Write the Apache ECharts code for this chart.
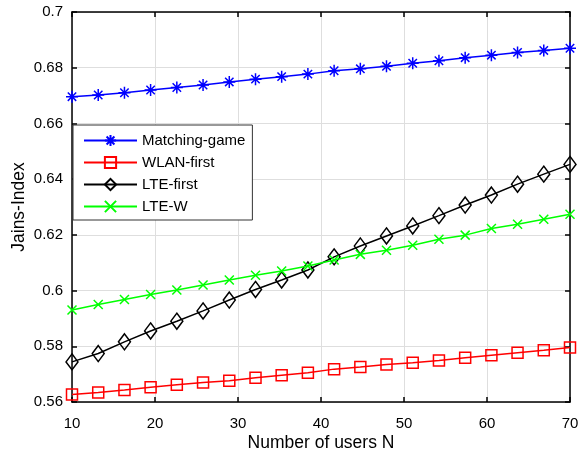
<!DOCTYPE html>
<html>
<head>
<meta charset="utf-8">
<script src="https://cdn.jsdelivr.net/npm/echarts@6/dist/echarts.min.js"></script>
<style>
  html, body { margin: 0; padding: 0; background: #fff; }
  #chart { width: 579px; height: 460px; }
</style>
</head>
<body>
<div id="chart"></div>
<script>
// Number of users N (20 evenly spaced samples from 10 to 70)
const users = [10, 13.16, 16.32, 19.47, 22.63, 25.79, 28.95, 32.11, 35.26, 38.42,
               41.58, 44.74, 47.89, 51.05, 54.21, 57.37, 60.53, 63.68, 66.84, 70];

const matchingGame = [0.6696, 0.6702, 0.6710, 0.6720, 0.6729, 0.6738, 0.6749, 0.6759, 0.6768, 0.6777,
                      0.6789, 0.6796, 0.6805, 0.6816, 0.6825, 0.6836, 0.6845, 0.6855, 0.6862, 0.6870];
const wlanFirst    = [0.5627, 0.5634, 0.5643, 0.5653, 0.5662, 0.5670, 0.5676, 0.5687, 0.5696, 0.5705,
                      0.5718, 0.5726, 0.5735, 0.5741, 0.5749, 0.5759, 0.5768, 0.5777, 0.5786, 0.5796];
const lteFirst     = [0.5744, 0.5774, 0.5816, 0.5855, 0.5890, 0.5927, 0.5966, 0.6004, 0.6038, 0.6074,
                      0.6121, 0.6160, 0.6196, 0.6232, 0.6269, 0.6307, 0.6343, 0.6382, 0.6418, 0.6453];
const lteW         = [0.5930, 0.5950, 0.5968, 0.5986, 0.6002, 0.6020, 0.6038, 0.6055, 0.6070, 0.6088,
                      0.6110, 0.6130, 0.6145, 0.6163, 0.6184, 0.6199, 0.6223, 0.6238, 0.6256, 0.6274];

const seriesNames = ['Matching-game', 'WLAN-first', 'LTE-first', 'LTE-W'];
const xTicks = { min: 10, max: 70, step: 10 };
const yTicks = { min: 0.56, max: 0.70, step: 0.02 };

const FONT = '"Liberation Sans", Arial, sans-serif';
const ASTERISK = 'path://M0,-1L0,1M-1,0L1,0M-0.7,-0.7L0.7,0.7M-0.7,0.7L0.7,-0.7';
const CROSS = 'path://M-1,-1L1,1M-1,1L1,-1';

function pairs(vals) { return users.map((u, i) => [u, vals[i]]); }

function lineSeries(name, vals, color, symbol, size, z) {
  return {
    name: name,
    type: 'line',
    data: pairs(vals),
    symbol: symbol,
    symbolSize: size,
    showAllSymbol: true,
    z: z,
    lineStyle: { color: color, width: 1.5 },
    itemStyle: { color: 'rgba(0,0,0,0)', borderColor: color, borderWidth: 1.5 },
    emphasis: { disabled: true },
    animation: false
  };
}

const chart = echarts.init(document.getElementById('chart'), null, { renderer: 'canvas' });

const gridLine = { show: true, lineStyle: { color: '#dedede', width: 1 } };
const boxLine = { show: true, lineStyle: { color: '#000', width: 1.5 } };
const tickStyle = { show: true, inside: true, length: 5, lineStyle: { color: '#000', width: 1.5 } };

chart.setOption({
  animation: false,
  backgroundColor: '#fff',
  textStyle: { fontFamily: FONT },
  grid: { left: 72, right: 9, top: 12, bottom: 58, containLabel: false, outerBoundsMode: 'none' },
  legend: {
    orient: 'vertical',
    left: 73,
    top: 125,
    data: seriesNames,
    backgroundColor: '#fff',
    borderColor: '#333',
    borderWidth: 1,
    borderRadius: 0,
    padding: [8, 7, 6, 10],
    itemWidth: 53,
    itemHeight: 14,
    itemGap: 7,
    textStyle: { fontFamily: FONT, fontSize: 15, color: '#000' }
  },
  xAxis: [{
    type: 'value',
    min: xTicks.min, max: xTicks.max, interval: xTicks.step,
    name: 'Number of users N',
    nameLocation: 'middle',
    nameGap: 32,
    nameMoveOverlap: false,
    nameTextStyle: { fontFamily: FONT, fontSize: 17.5, color: '#000' },
    axisLine: boxLine,
    axisTick: tickStyle,
    axisLabel: { fontFamily: FONT, fontSize: 15, color: '#000', margin: 14 },
    splitLine: gridLine
  }, {
    type: 'value', position: 'top',
    min: xTicks.min, max: xTicks.max, interval: xTicks.step,
    axisLine: boxLine,
    axisTick: tickStyle,
    axisLabel: { show: false },
    splitLine: { show: false }
  }],
  yAxis: [{
    type: 'value',
    min: yTicks.min, max: yTicks.max, interval: yTicks.step,
    name: 'Jains-Index',
    nameLocation: 'middle',
    nameGap: 44,
    nameMoveOverlap: false,
    nameTextStyle: { fontFamily: FONT, fontSize: 17.5, color: '#000' },
    axisLine: boxLine,
    axisTick: tickStyle,
    axisLabel: {
      fontFamily: FONT, fontSize: 15, color: '#000', margin: 9,
      formatter: v => parseFloat(v.toFixed(2)).toString()
    },
    splitLine: gridLine
  }, {
    type: 'value', position: 'right',
    min: yTicks.min, max: yTicks.max, interval: yTicks.step,
    axisLine: boxLine,
    axisTick: tickStyle,
    axisLabel: { show: false },
    splitLine: { show: false }
  }],
  series: [
    lineSeries(seriesNames[0], matchingGame, '#0000ff', ASTERISK, 12, 4),
    lineSeries(seriesNames[1], wlanFirst, '#ff0000', 'rect', 11, 3),
    lineSeries(seriesNames[2], lteFirst, '#000000', 'diamond', [12, 16], 2),
    lineSeries(seriesNames[3], lteW, '#00ff00', CROSS, 9, 5)
  ]
});
</script>
</body>
</html>
